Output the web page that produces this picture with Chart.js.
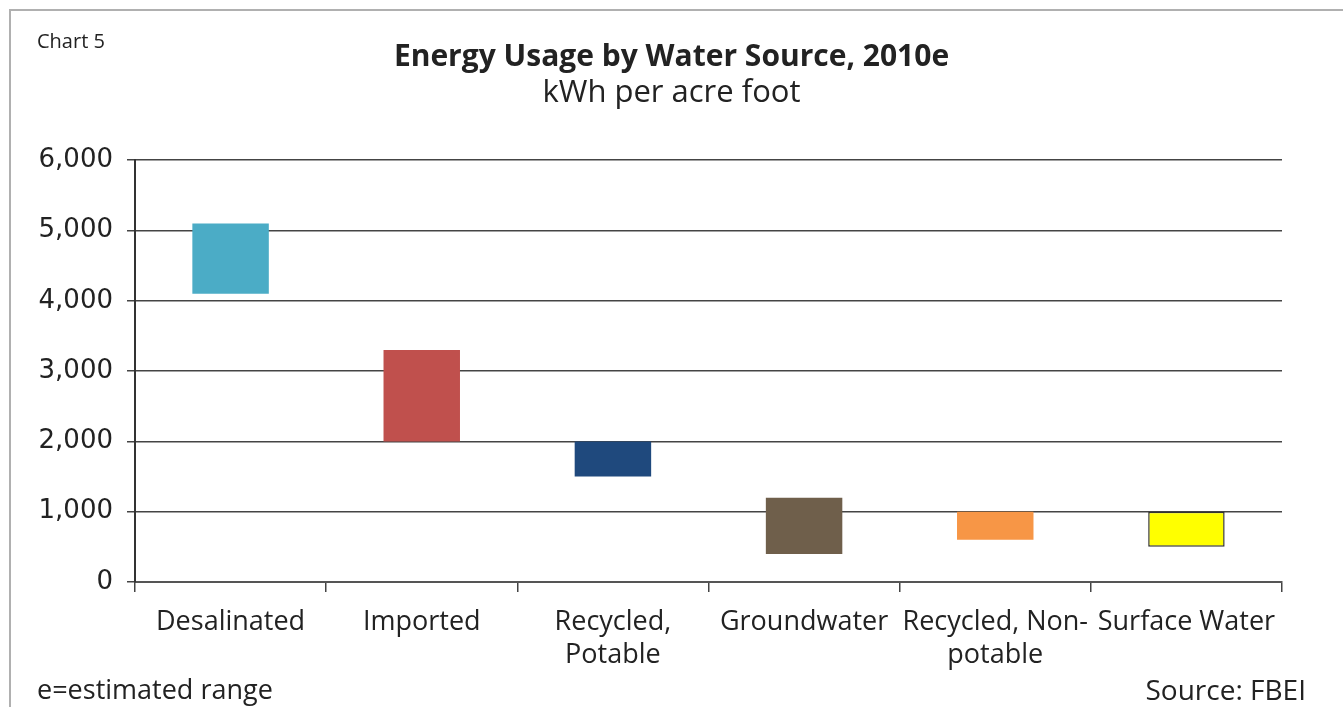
<!DOCTYPE html>
<html>
<head>
<meta charset="utf-8">
<script src="https://cdn.jsdelivr.net/npm/chart.js@4"></script>
<style>
  body { margin: 0; background: #fff; }
  #wrap { position: relative; width: 1343px; height: 707px; overflow: hidden; }
  #frame { position: absolute; left: 9px; top: 9px; width: 1400px; height: 800px;
           border-left: 2px solid #b0b0b0; border-top: 2px solid #b0b0b0; }
  .note { position: absolute; font-family: "Open Sans", sans-serif; color: #222; white-space: nowrap; line-height: 1.36; }
</style>
</head>
<body>
<div id="wrap">
  <div id="frame"></div>
  <canvas id="myChart"></canvas>
  <div class="note" style="left:37px; top:27px; font-size:20px;">Chart 5</div>
  <div class="note" style="left:37px; top:671px; font-size:27px;">e=estimated range</div>
  <div class="note" style="right:37px; top:670px; font-size:28px;">Source: FBEI</div>
</div>
<script>
// kWh per acre foot, estimated low/high ranges
var categories = ["Desalinated", "Imported", ["Recycled,", "Potable"], "Groundwater", ["Recycled, Non-", "potable"], "Surface Water"];
var lowValues = [4100, 2000, 1500, 400, 600, 500];
var highValues = [5100, 3300, 2000, 1200, 1000, 1000];
var barColors = ["#4BACC6", "#C0504D", "#1F497D", "#6F5F4B", "#F79646", "#FFFF00"];

var ranges = lowValues.map(function (lo, i) { return [lo, highValues[i]]; });

var ctx = document.getElementById("myChart").getContext("2d");
ctx.canvas.width = 1343;
ctx.canvas.height = 707;

var myChart = new Chart(ctx, {
  type: "bar",
  data: {
    labels: categories,
    datasets: [
      {
        label: "Energy usage",
        data: ranges,
        backgroundColor: barColors,
        borderColor: ["#4BACC6", "#C0504D", "#1F497D", "#6F5F4B", "#F79646", "#333333"],
        borderWidth: [0, 0, 0, 0, 0, 1.5],
        borderSkipped: false,
        barPercentage: 0.4,
        categoryPercentage: 1,
      },
    ],
  },
  options: {
    responsive: false,
    animation: false,
    layout: { padding: 0 },
    plugins: {
      legend: { display: false },
      tooltip: { enabled: false },
      title: {
        display: true,
        text: "Energy Usage by Water Source, 2010e",
        color: "#222",
        font: { family: "Open Sans", size: 30, weight: "bold" },
        padding: { top: 39, bottom: 0 },
      },
      subtitle: {
        display: true,
        text: "kWh per acre foot",
        color: "#222",
        font: { family: "Open Sans", size: 31 },
        padding: { top: 0, bottom: 48 },
      },
    },
    scales: {
      x: {
        offset: true,
        grid: { drawOnChartArea: false, offset: true, tickLength: 10, color: "#444", lineWidth: 1.5 },
        border: { color: "#555", width: 2 },
        ticks: {
          color: "#222",
          font: { family: "Open Sans", size: 27, lineHeight: 1.22 },
          maxRotation: 0,
          autoSkip: false,
          padding: 14,
        },
        afterFit: function (s) { s.height = 125; },
      },
      y: {
        min: 0,
        max: 6000,
        grid: { color: "#444", lineWidth: 1.5, tickLength: 8 },
        border: { color: "#333", width: 2 },
        ticks: {
          stepSize: 1000,
          color: "#222",
          padding: 14,
          font: { family: "DejaVu Sans", size: 26 },
          callback: function (v) { return v.toLocaleString("en-US"); },
        },
        afterFit: function (s) { s.width = 135; },
      },
      // empty right-hand spacer so the plot ends where the original does
      yRight: {
        position: "right",
        min: 0,
        max: 6000,
        grid: { drawOnChartArea: false, drawTicks: false },
        border: { display: false },
        ticks: { display: false },
        afterFit: function (s) { s.width = 61; },
      },
    },
  },
});
</script>
</body>
</html>
